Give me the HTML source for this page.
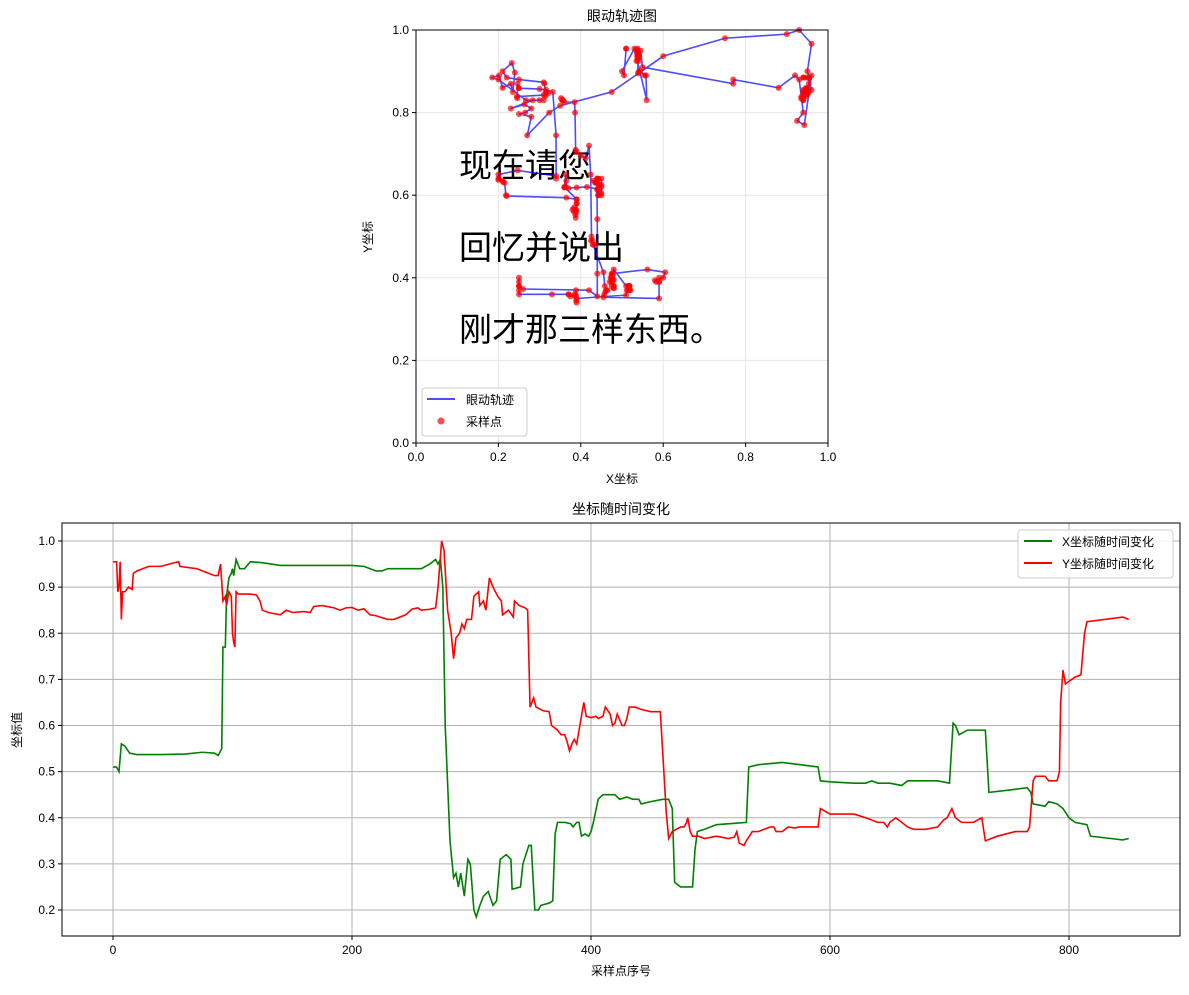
<!DOCTYPE html>
<html><head><meta charset="utf-8">
<style>
body{margin:0;background:#fff;}
svg{font-family:"Liberation Sans","Noto Sans CJK SC",sans-serif;}
</style></head>
<body>
<svg id="fig" width="1189" height="990" viewBox="0 0 1189 990" xmlns="http://www.w3.org/2000/svg">
<rect width="1189" height="990" fill="#fff"/>
<g id="topchart"></g>
<g id="botchart"></g>
</svg>
<script>
const idx=[0,3,5,7,10,14,20,40,60,75,85,88,91,92,94,95,97,99,100,101,103,106,110,115,125,140,160,180,200,210,215,220,225,230,250,258,265,270,272,274,276,278,282,285,287,289,291,294,297,299,302,304,307,310,314,318,321,324,329,333,334,341,343,348,350,353,356,358,365,368,370,372,378,383,385,388,390,392,395,398,400,402,406,410,420,424,430,435,440,442,450,460,465,468,470,475,480,485,487,489,495,505,520,530,532,540,560,575,590,592,600,620,630,635,640,650,660,665,690,700,703,705,708,715,730,733,750,765,768,770,780,783,790,795,800,805,815,818,835,845,850];
const xVals=[0.51,0.51,0.50,0.56,0.555,0.54,0.537,0.537,0.538,0.542,0.54,0.535,0.55,0.77,0.77,0.88,0.92,0.93,0.94,0.925,0.96,0.94,0.94,0.955,0.953,0.947,0.947,0.947,0.947,0.945,0.94,0.935,0.935,0.94,0.94,0.94,0.95,0.96,0.95,0.96,0.9,0.6,0.35,0.27,0.28,0.25,0.28,0.23,0.31,0.3,0.2,0.185,0.21,0.23,0.24,0.21,0.22,0.31,0.32,0.31,0.245,0.25,0.3,0.34,0.34,0.2,0.2,0.21,0.215,0.22,0.365,0.39,0.39,0.387,0.38,0.39,0.39,0.36,0.365,0.36,0.37,0.39,0.44,0.45,0.45,0.44,0.445,0.44,0.44,0.43,0.435,0.44,0.44,0.42,0.26,0.25,0.25,0.25,0.33,0.37,0.375,0.385,0.388,0.39,0.51,0.515,0.52,0.515,0.51,0.48,0.478,0.475,0.475,0.48,0.475,0.475,0.47,0.48,0.48,0.475,0.605,0.6,0.58,0.59,0.59,0.455,0.46,0.465,0.455,0.43,0.425,0.435,0.43,0.42,0.4,0.39,0.385,0.36,0.355,0.352,0.355];
const idxY=[0,3,4,5,6,7,8,10,13,16,17,20,25,30,40,50,55,56,70,85,88,90,92,94,95,97,99,100,101,102,103,105,115,120,123,125,130,140,145,150,160,165,168,175,185,190,195,200,205,210,215,220,230,235,245,250,255,258,265,270,272,275,277,280,283,285,287,290,292,294,296,300,302,306,307,310,312,315,318,322,325,326,331,335,336,340,345,347,349,352,354,360,365,367,372,375,378,380,382,384,386,388,392,394,396,400,404,406,410,412,416,418,420,422,426,428,430,432,437,442,450,455,458,463,465,468,475,478,480,481,483,485,490,495,505,515,520,522,524,528,530,535,540,545,550,553,555,560,565,570,575,590,592,600,610,620,630,640,645,648,650,655,665,670,680,690,695,698,702,705,710,715,720,727,730,740,755,765,767,770,772,780,783,790,792,793,795,797,805,810,813,815,830,845,850];
const yVals=[0.955,0.955,0.89,0.9,0.955,0.83,0.89,0.89,0.9,0.895,0.93,0.935,0.94,0.945,0.945,0.952,0.955,0.945,0.94,0.925,0.925,0.95,0.87,0.88,0.86,0.89,0.88,0.8,0.78,0.77,0.89,0.885,0.885,0.883,0.87,0.85,0.845,0.84,0.85,0.845,0.847,0.845,0.858,0.86,0.855,0.85,0.855,0.856,0.85,0.853,0.84,0.838,0.83,0.83,0.84,0.852,0.855,0.85,0.852,0.855,0.9,1.0,0.98,0.85,0.8,0.745,0.79,0.8,0.82,0.81,0.83,0.83,0.88,0.89,0.86,0.87,0.85,0.92,0.9,0.88,0.87,0.84,0.85,0.835,0.87,0.86,0.855,0.85,0.64,0.66,0.64,0.632,0.63,0.6,0.59,0.58,0.58,0.565,0.545,0.56,0.57,0.56,0.62,0.65,0.62,0.617,0.62,0.615,0.62,0.64,0.625,0.6,0.605,0.625,0.6,0.6,0.615,0.64,0.64,0.635,0.63,0.63,0.63,0.41,0.355,0.37,0.38,0.38,0.39,0.4,0.37,0.36,0.36,0.355,0.36,0.355,0.358,0.37,0.345,0.34,0.35,0.37,0.37,0.375,0.38,0.38,0.37,0.37,0.38,0.378,0.38,0.38,0.42,0.408,0.408,0.408,0.4,0.39,0.39,0.38,0.39,0.4,0.38,0.375,0.375,0.38,0.395,0.4,0.42,0.4,0.39,0.39,0.39,0.4,0.35,0.36,0.37,0.37,0.38,0.48,0.49,0.49,0.48,0.48,0.5,0.65,0.72,0.69,0.705,0.71,0.8,0.825,0.83,0.835,0.83];
const xTicksBot=[0,200,400,600,800];
const yTicksBot=[0.2,0.3,0.4,0.5,0.6,0.7,0.8,0.9,1.0];
const topTicks=[0,0.2,0.4,0.6,0.8,1.0];

const NS="http://www.w3.org/2000/svg";
function mk(tag,attrs,parent,text){const e=document.createElementNS(NS,tag);for(const k in attrs)e.setAttribute(k,attrs[k]);if(text!==undefined)e.textContent=text;parent.appendChild(e);return e;}
function valAt(ix,vs,i){let k=0;while(k<ix.length-1&&ix[k+1]<=i)k++;if(k>=ix.length-1)return vs[vs.length-1];const t=(i-ix[k])/(ix[k+1]-ix[k]);return vs[k]+t*(vs[k+1]-vs[k]);}

// ---------- bottom chart ----------
const B={l:62,r:1180,t:523,b:936};
const bx=v=>113+v*(1069-113)/800;
const by=v=>541+(1-v)*(910-541)/0.8;
const botG=document.getElementById('botchart');
xTicksBot.forEach(t=>{
 const g=mk('line',{x1:bx(t),x2:bx(t),y1:B.t,y2:B.b,stroke:'#b0b0b0','stroke-width':1},botG);
 
 
 mk('line',{x1:bx(t),x2:bx(t),y1:B.b,y2:B.b+4,stroke:'#000'},botG);
 const tx=mk('text',{x:bx(t),y:B.b+18,'font-size':12,'text-anchor':'middle'},botG,String(t));
 
 
});
yTicksBot.forEach(t=>{
 const g=mk('line',{x1:B.l,x2:B.r,y1:by(t),y2:by(t),stroke:'#b0b0b0','stroke-width':1},botG);
 
 
 mk('line',{x1:B.l-4,x2:B.l,y1:by(t),y2:by(t),stroke:'#000'},botG);
 const tx=mk('text',{x:B.l-7,y:by(t)+4,'font-size':12,'text-anchor':'end'},botG,t.toFixed(1));
 
 
});
const px=mk('polyline',{points:idx.map((d,i)=>bx(d)+','+by(xVals[i])).join(' '),fill:'none',stroke:'#008000','stroke-width':1.6},botG);


const py=mk('polyline',{points:idxY.map((d,i)=>bx(d)+','+by(yVals[i])).join(' '),fill:'none',stroke:'#ff0000','stroke-width':1.6},botG);


const fr=mk('rect',{x:B.l,y:B.t,width:B.r-B.l,height:B.b-B.t,fill:'none',stroke:'#000','stroke-width':1},botG);


let tt=mk('text',{x:621,y:514,'font-size':14,'text-anchor':'middle'},botG,'坐标随时间变化');


tt=mk('text',{x:621,y:975,'font-size':12,'text-anchor':'middle'},botG,'采样点序号');


tt=mk('text',{x:21,y:730,'font-size':12,'text-anchor':'middle',transform:'rotate(-90 21 730)'},botG,'坐标值');


const lg=mk('g',{},botG);


mk('rect',{x:1018,y:530,width:155,height:48,rx:3,fill:'#fff',stroke:'#ccc','fill-opacity':0.85},lg);
mk('line',{x1:1024,x2:1052,y1:541,y2:541,stroke:'#008000','stroke-width':2},lg);
mk('text',{x:1062,y:546,'font-size':12},lg,'X坐标随时间变化');
mk('line',{x1:1024,x2:1052,y1:563,y2:563,stroke:'#ff0000','stroke-width':2},lg);
mk('text',{x:1062,y:568,'font-size':12},lg,'Y坐标随时间变化');

// ---------- top chart ----------
const T={l:416,r:828,t:30,b:443};
const tX=v=>T.l+v*(T.r-T.l);
const tY=v=>T.b-v*(T.b-T.t);
const topG=document.getElementById('topchart');
topTicks.forEach(t=>{
 mk('line',{x1:tX(t),x2:tX(t),y1:T.t,y2:T.b,stroke:'#e6e6e6'},topG);
 mk('line',{x1:T.l,x2:T.r,y1:tY(t),y2:tY(t),stroke:'#e6e6e6'},topG);
 mk('line',{x1:tX(t),x2:tX(t),y1:T.b,y2:T.b+4,stroke:'#000'},topG);
 mk('line',{x1:T.l-4,x2:T.l,y1:tY(t),y2:tY(t),stroke:'#000'},topG);
 let a=mk('text',{x:tX(t),y:T.b+18,'font-size':12,'text-anchor':'middle'},topG,t.toFixed(1));
 
 
 a=mk('text',{x:T.l-7,y:tY(t)+4,'font-size':12,'text-anchor':'end'},topG,t.toFixed(1));
 
 
});
['现在请您','回忆并说出','刚才那三样东西。'].forEach((s,i)=>{
 const a=mk('text',{x:459,y:177+i*82,'font-size':33},topG,s);
 
 
});
const allIdx=[...new Set(idx.concat(idxY))].sort((a,b)=>a-b);
const pts=allIdx.map(i=>[valAt(idx,xVals,i),valAt(idxY,yVals,i)]);
const tl=mk('polyline',{points:pts.map(p=>tX(p[0])+','+tY(p[1])).join(' '),fill:'none',stroke:'#0000ff','stroke-opacity':0.7,'stroke-width':1.6},topG);


pts.forEach(p=>{
 const c=mk('circle',{cx:tX(p[0]),cy:tY(p[1]),r:3,fill:'#ff0000','fill-opacity':0.7},topG);
 
 
});
const tf=mk('rect',{x:T.l,y:T.t,width:T.r-T.l,height:T.b-T.t,fill:'none',stroke:'#000'},topG);


tt=mk('text',{x:622,y:21,'font-size':14,'text-anchor':'middle'},topG,'眼动轨迹图');


tt=mk('text',{x:622,y:483,'font-size':12,'text-anchor':'middle'},topG,'X坐标');


tt=mk('text',{x:372,y:237,'font-size':12,'text-anchor':'middle',transform:'rotate(-90 372 237)'},topG,'Y坐标');


const lg2=mk('g',{},topG);


mk('rect',{x:422,y:388,width:105,height:48,rx:3,fill:'#fff',stroke:'#ccc','fill-opacity':0.85},lg2);
mk('line',{x1:427,x2:455,y1:399,y2:399,stroke:'#0000ff','stroke-opacity':0.7,'stroke-width':2},lg2);
mk('text',{x:466,y:404,'font-size':12},lg2,'眼动轨迹');
mk('circle',{cx:441,cy:421,r:3.5,fill:'#ff0000','fill-opacity':0.7},lg2);
mk('text',{x:466,y:426,'font-size':12},lg2,'采样点');
</script>
</body></html>
